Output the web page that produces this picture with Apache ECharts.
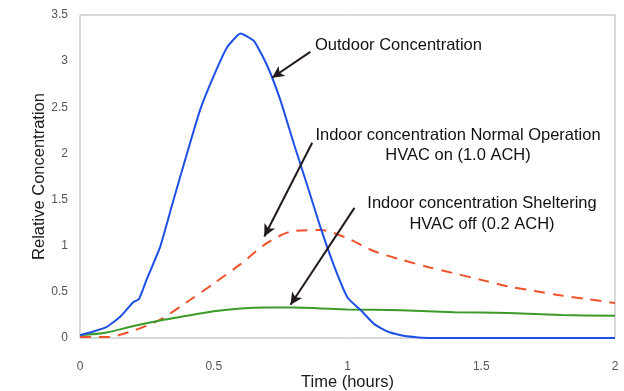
<!DOCTYPE html>
<html>
<head>
<meta charset="utf-8">
<script src="https://cdn.jsdelivr.net/npm/echarts@6/dist/echarts.min.js"></script>
<style>
  html, body { margin: 0; padding: 0; background: #fff; }
  #chart { width: 624px; height: 391px; }
</style>
</head>
<body>
<div id="chart"></div>
<script>
// 数据 (时间, 相对浓度)
const outdoorX = [0, 0.05, 0.1, 0.15, 0.2, 0.22, 0.25, 0.3, 0.35, 0.4, 0.45, 0.5, 0.55, 0.6, 0.65, 0.7, 0.75, 0.8, 0.85, 0.9, 0.95, 1.0, 1.05, 1.1, 1.15, 1.2, 1.25, 1.3, 1.4, 1.6, 1.8, 2.0]
const outdoorY = [0.03, 0.07, 0.12, 0.23, 0.39, 0.42, 0.64, 0.99, 1.5, 2.0, 2.48, 2.84, 3.15, 3.3, 3.22, 2.95, 2.57, 2.1, 1.65, 1.19, 0.78, 0.44, 0.3, 0.15, 0.07, 0.03, 0.01, 0, 0, 0, 0, 0]

const normalX = [0, 0.1, 0.2, 0.3, 0.4, 0.5, 0.6, 0.7, 0.8, 0.9, 1.0, 1.1, 1.2, 1.3, 1.4, 1.5, 1.6, 1.7, 1.8, 1.9, 2.0]
const normalY = [0.01, 0.01, 0.08, 0.2, 0.39, 0.59, 0.8, 1.03, 1.16, 1.17, 1.08, 0.94, 0.85, 0.77, 0.7, 0.63, 0.56, 0.51, 0.46, 0.42, 0.38]

const shelterX = [0, 0.1, 0.2, 0.3, 0.4, 0.5, 0.6, 0.7, 0.8, 0.9, 1.0, 1.2, 1.4, 1.6, 1.8, 2.0]
const shelterY = [0.03, 0.06, 0.13, 0.19, 0.24, 0.29, 0.32, 0.33, 0.33, 0.32, 0.31, 0.3, 0.28, 0.27, 0.25, 0.24]

const xTicks = [0, 0.5, 1, 1.5, 2]
const yTicks = [0, 0.5, 1, 1.5, 2, 2.5, 3, 3.5]

// 注释文字与箭头 (箭头用数据坐标: 起点 -> 箭头端)
const noteTexts = [
  'Outdoor Concentration',
  'Indoor concentration Normal Operation\nHVAC on (1.0 ACH)',
  'Indoor concentration Sheltering\nHVAC off (0.2 ACH)'
]
const arrowFrom = [[0.861, 3.10], [0.868, 2.116], [1.026, 1.41]]
const arrowTo = [[0.718, 2.82], [0.689, 1.10], [0.787, 0.36]]

const font = "'Liberation Sans', Arial, Helvetica, sans-serif"
const pairs = (xs, ys) => xs.map((x, i) => [x, ys[i]])

const myChart = echarts.init(document.getElementById('chart'))
myChart.setOption({
  animation: false,
  backgroundColor: '#ffffff',
  grid: {
    show: true,
    left: 80,
    right: 9,
    top: 15,
    bottom: 53,
    outerBoundsMode: 'none',
    borderColor: '#b4b4b4',
    borderWidth: 1
  },
  xAxis: {
    type: 'value',
    min: xTicks[0],
    max: xTicks[xTicks.length - 1],
    interval: 0.5,
    name: 'Time (hours)',
    nameLocation: 'middle',
    nameGap: 36,
    nameMoveOverlap: false,
    nameTextStyle: { fontFamily: font, fontSize: 16.5, color: '#1a1a1a' },
    axisLine: { show: false },
    axisTick: { show: false },
    splitLine: { show: false },
    axisLabel: {
      margin: 23,
      fontFamily: font,
      fontSize: 12,
      color: '#555',
      formatter: v => String(v)
    }
  },
  yAxis: {
    type: 'value',
    min: yTicks[0],
    max: yTicks[yTicks.length - 1],
    interval: 0.5,
    name: 'Relative Concentration',
    nameLocation: 'middle',
    nameGap: 32,
    nameMoveOverlap: false,
    nameTextStyle: { fontFamily: font, fontSize: 16.5, color: '#1a1a1a' },
    axisLine: { show: false },
    axisTick: { show: false },
    splitLine: { show: false },
    axisLabel: {
      margin: 12,
      fontFamily: font,
      fontSize: 12,
      color: '#555',
      formatter: v => String(v)
    }
  },
  series: [
    {
      name: 'Outdoor',
      type: 'line',
      data: pairs(outdoorX, outdoorY),
      smooth: 0.15,
      showSymbol: false,
      lineStyle: { color: '#1f50e6', width: 2 },
      z: 3
    },
    {
      name: 'Normal',
      type: 'line',
      data: pairs(normalX, normalY),
      smooth: 0.3,
      showSymbol: false,
      lineStyle: { color: '#f0522a', width: 2, type: [11, 8] },
      z: 2
    },
    {
      name: 'Sheltering',
      type: 'line',
      data: pairs(shelterX, shelterY),
      smooth: 0.3,
      showSymbol: false,
      lineStyle: { color: '#3b9a28', width: 2 },
      z: 2,
      markLine: {
        silent: true,
        symbol: ['none', 'arrow'],
        symbolSize: [9, 12],
        label: { show: false },
        lineStyle: { color: '#221a1a', width: 2, type: 'solid' },
        data: arrowFrom.map((p, i) => [{ coord: p }, { coord: arrowTo[i] }])
      }
    }
  ],
  graphic: [
    {
      type: 'text', left: 315, top: 37,
      style: { text: noteTexts[0], font: '16.5px ' + font, fill: '#111' }
    },
    {
      type: 'text', x: 458, y: 125,
      style: { text: noteTexts[1], font: '16.5px ' + font, fill: '#111', align: 'center', verticalAlign: 'top', lineHeight: 20 }
    },
    {
      type: 'text', x: 482, y: 193,
      style: { text: noteTexts[2], font: '16.5px ' + font, fill: '#111', align: 'center', verticalAlign: 'top', lineHeight: 21 }
    }
  ]
})
</script>
</body>
</html>
